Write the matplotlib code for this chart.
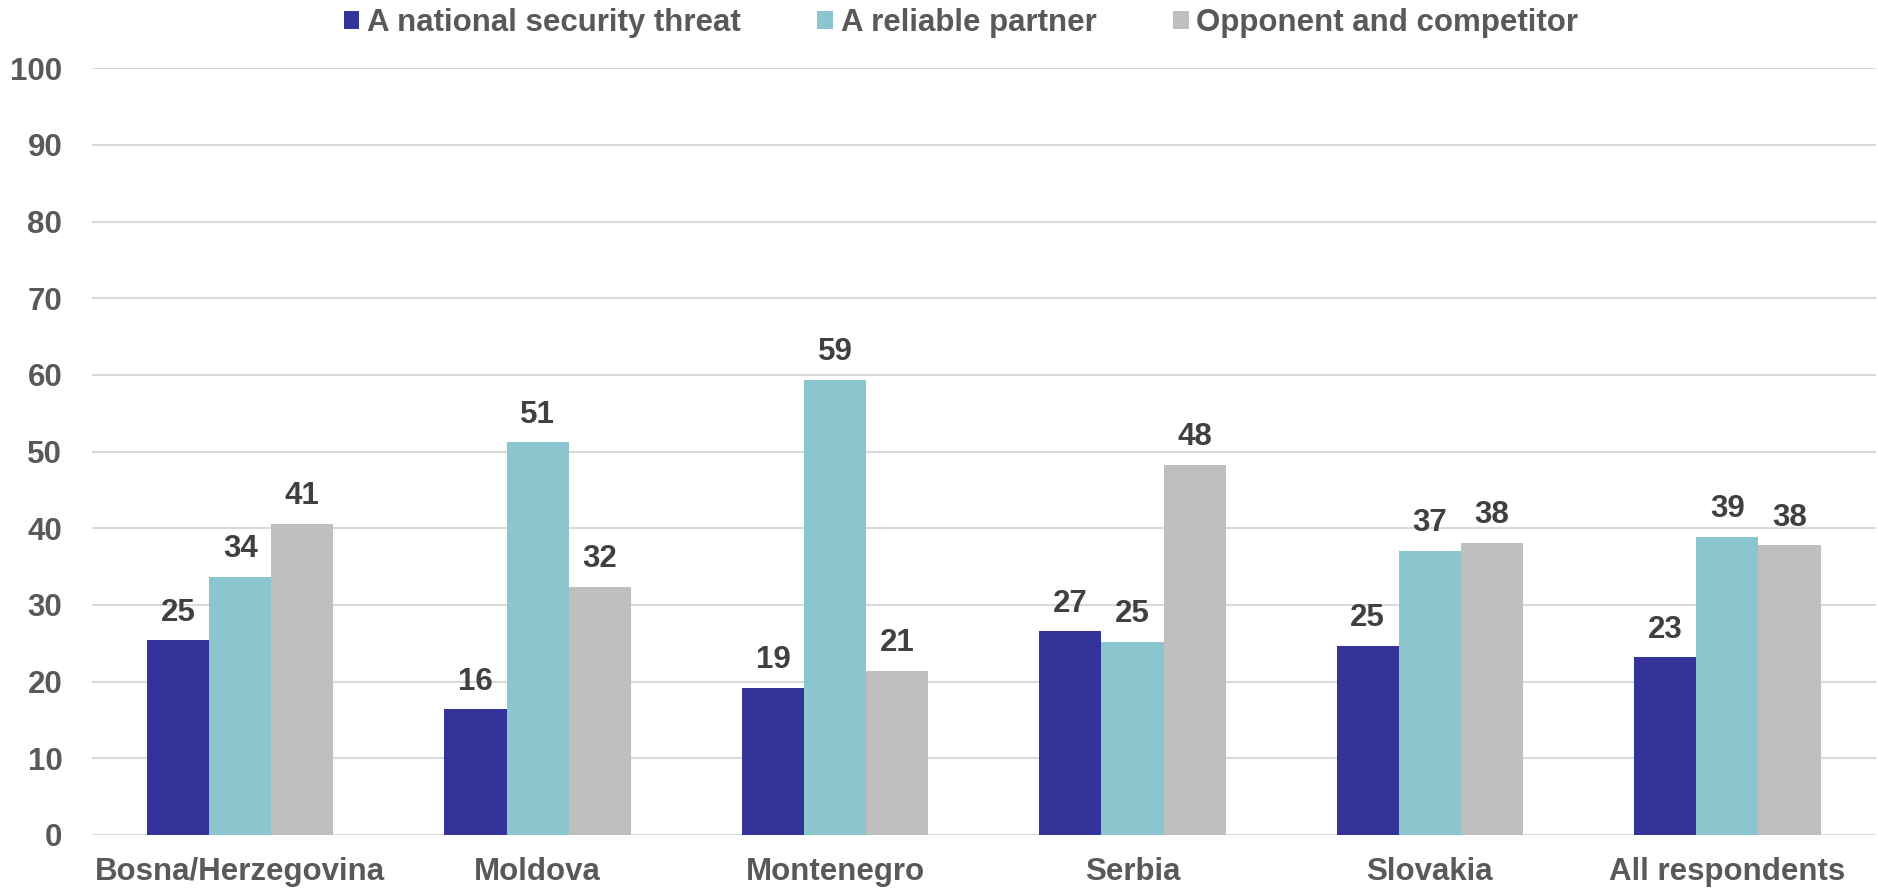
import numpy as np
import matplotlib
matplotlib.use('Agg')
import matplotlib.pyplot as plt

plt.rcParams['font.family'] = ['Liberation Sans', 'DejaVu Sans']
plt.rcParams['font.weight'] = 'bold'

categories = ['Bosna/Herzegovina', 'Moldova', 'Montenegro', 'Serbia', 'Slovakia', 'All respondents']
series_names = ['A national security threat', 'A reliable partner', 'Opponent and competitor']
threat = [25.4, 16.4, 19.2, 26.6, 24.7, 23.2]
partner = [33.7, 51.2, 59.4, 25.2, 37.1, 38.9]
opponent = [40.6, 32.4, 21.4, 48.3, 38.1, 37.8]
colors = ['#333399', '#8BC6CE', '#BFBFBF']

fig = plt.figure(figsize=(18.78, 8.91), dpi=100)
ax = fig.add_axes([91.5 / 1878, 1 - 835 / 891, (1876 - 91.5) / 1878, (835 - 68.3) / 891])

x = np.arange(len(categories))
w = 0.209
for i, (vals, name, c) in enumerate(zip([threat, partner, opponent], series_names, colors)):
    bars = ax.bar(x + (i - 1) * w, vals, w, color=c, label=name, zorder=3)
    for b, v in zip(bars, vals):
        ax.annotate(f'{round(v):d}', (b.get_x() + b.get_width() / 2, v),
                    xytext=(0, 9), textcoords='offset points',
                    ha='center', va='bottom', fontsize=22.5,
                    fontweight='bold', color='#404040')

ax.set_xlim(-0.5, len(categories) - 0.5)
ax.set_ylim(0, 100)
ax.set_yticks(range(0, 101, 10))
ax.set_xticks(x)
ax.set_xticklabels(categories)
ax.tick_params(axis='both', length=0, labelsize=22.5, labelcolor='#595959')
ax.tick_params(axis='x', pad=16)
ax.tick_params(axis='y', pad=21)
ax.grid(axis='y', color='#D9D9D9', linewidth=1.5, zorder=0)
for s in ax.spines.values():
    s.set_visible(False)

fig.legend(loc='center', bbox_to_anchor=(0.5117, 0.974), ncol=3, frameon=False,
           fontsize=22.5, labelcolor='#595959', handlelength=0.5, handleheight=0.5,
           handletextpad=0.25, columnspacing=2.45)

fig.savefig('out.png', dpi=100)
